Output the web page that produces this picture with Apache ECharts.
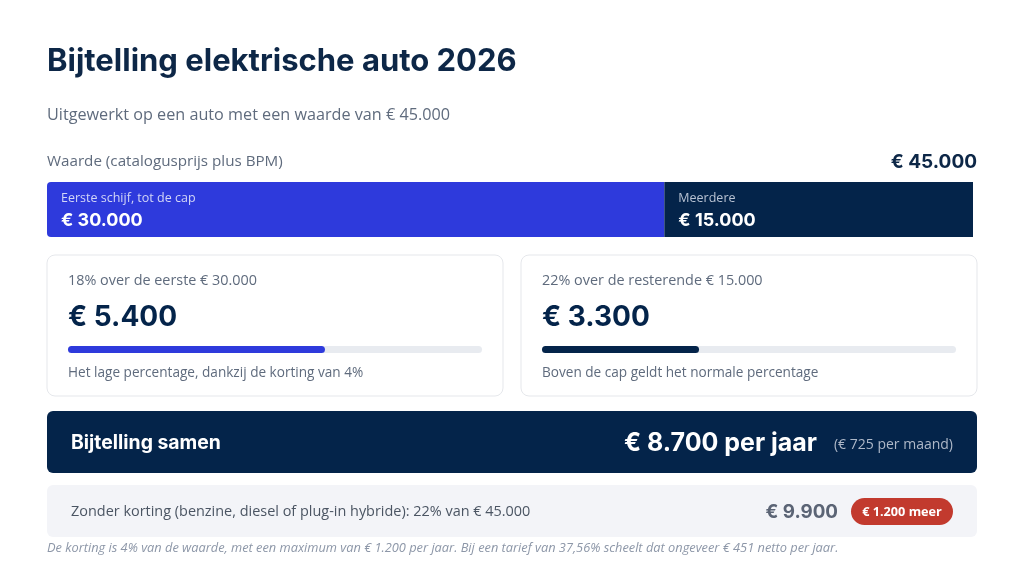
<!DOCTYPE html>
<html>
<head>
<meta charset="utf-8">
<script src="https://cdn.jsdelivr.net/npm/echarts@6/dist/echarts.min.js"></script>
<style>
  html, body { margin: 0; padding: 0; background: #fff; }
  #chart { width: 1024px; height: 563px; }
</style>
</head>
<body>
<div id="chart"></div>
<script>
// data
const carValue = 45000
const segmentNames = ["Eerste schijf, tot de cap", "Meerdere"]
const segmentValues = [30000, 15000]
const segmentRates = [18, 22]
const segmentNotes = ["Het lage percentage, dankzij de korting van 4%", "Boven de cap geldt het normale percentage"]
const normalRate = 22
const maxDiscount = 1200
const netRate = "37,56"
const netSaving = 451

const navy = "#04244a"
const blue = "#2e3adc"
const grey = "#5f6b7d"
const headFont = "Inter, 'Noto Sans', sans-serif"
const bodyFont = "'Open Sans', 'Noto Sans', sans-serif"

function eur(v) {
    return "€ " + String(Math.round(v)).replace(/\B(?=(\d{3})+(?!\d))/g, ".")
}

const taxes = segmentValues.map((v, i) => v * segmentRates[i] / 100)
const total = taxes[0] + taxes[1]
const withoutDiscount = carValue * normalRate / 100

const myChart = echarts.init(document.getElementById("chart"))

function txt(x, y, text, font, fill, align) {
    return {
        type: "text",
        z: 10,
        style: {
            x: x, y: y, text: text, font: font, fill: fill,
            align: align || "left", verticalAlign: "middle"
        }
    }
}

function box(x, y, w, h, fill, stroke, r) {
    return {
        type: "rect",
        z: 0,
        shape: { x: x, y: y, width: w, height: h, r: r },
        style: { fill: fill, stroke: stroke || null, lineWidth: stroke ? 1 : 0 }
    }
}

const cardX = [47, 521]
const graphics = [
    txt(47, 62, "Bijtelling elektrische auto 2026", "700 31px " + headFont, "#0d2747"),
    txt(47, 115, "Uitgewerkt op een auto met een waarde van " + eur(carValue), "400 16.2px " + bodyFont, grey),
    txt(47, 162, "Waarde (catalogusprijs plus BPM)", "400 15.2px " + bodyFont, grey),
    txt(977, 162, eur(carValue), "700 19px " + headFont, "#0d2747", "right"),

    box(47, 411, 930, 62, navy, null, 6),
    txt(71, 443, "Bijtelling samen", "700 19.4px " + headFont, "#fff"),
    txt(953, 445, "(" + eur(total / 12) + " per maand)", "400 14px " + bodyFont, "#aeb8c8", "right"),
    txt(817, 443, eur(total) + " per jaar", "700 25px " + headFont, "#fff", "right"),

    box(47, 485, 930, 52, "#f3f4f8", null, 6),
    txt(71, 512, "Zonder korting (benzine, diesel of plug-in hybride): " + normalRate + "% van " + eur(carValue), "400 14.45px " + bodyFont, "#4b5563"),
    txt(838, 512, eur(withoutDiscount), "700 18.8px " + headFont, "#5b6475", "right"),
    box(851, 498, 102, 27, "#c23a2e", null, 13.5),
    txt(902, 512, eur(withoutDiscount - total) + " meer", "700 12.7px " + bodyFont, "#fff", "center"),

    txt(47, 548, "De korting is 4% van de waarde, met een maximum van " + eur(maxDiscount) + " per jaar. Bij een tarief van " + netRate + "% scheelt dat ongeveer " + eur(netSaving) + " netto per jaar.", "italic 400 12.8px " + bodyFont, "#8d97a8")
]

cardX.forEach(function (x, i) {
    graphics.push(box(x, 255, 456, 141, "#fff", "#e5e7eb", 8))
    graphics.push(txt(x + 21, 281, segmentRates[i] + "% over de " + (i === 0 ? "eerste " : "resterende ") + eur(segmentValues[i]), "400 14.4px " + bodyFont, grey))
    graphics.push(txt(x + 21, 318, eur(taxes[i]), "700 28px " + headFont, navy))
    graphics.push(txt(x + 21, 373, segmentNotes[i], "400 13.6px " + bodyFont, grey))
})

const option = {
    animation: false,
    grid: [
        { left: 47, top: 182, width: 926, height: 55 },
        { left: 68, top: 346, width: 414, height: 7 },
        { left: 542, top: 346, width: 414, height: 7 }
    ],
    xAxis: [
        { gridIndex: 0, type: "value", min: 0, max: carValue, show: false },
        { gridIndex: 1, type: "value", min: 0, max: total, show: false },
        { gridIndex: 2, type: "value", min: 0, max: total, show: false }
    ],
    yAxis: [
        { gridIndex: 0, type: "category", data: ["waarde"], show: false },
        { gridIndex: 1, type: "category", data: ["a"], show: false },
        { gridIndex: 2, type: "category", data: ["b"], show: false }
    ],
    series: [{
            type: "bar",
            stack: "waarde",
            xAxisIndex: 0,
            yAxisIndex: 0,
            barWidth: "100%",
            data: [segmentValues[0]],
            itemStyle: { color: blue, borderRadius: [4, 0, 0, 4] },
            label: {
                show: true,
                position: "insideLeft",
                distance: 14,
                formatter: "{a|" + segmentNames[0] + "}\n{b|" + eur(segmentValues[0]) + "}",
                rich: {
                    a: { fontFamily: bodyFont, fontSize: 12.5, color: "#d3d6f7", lineHeight: 23 },
                    b: { fontFamily: headFont, fontSize: 18, fontWeight: 700, color: "#fff", lineHeight: 23 }
                }
            }
        },
        {
            type: "bar",
            stack: "waarde",
            xAxisIndex: 0,
            yAxisIndex: 0,
            barWidth: "100%",
            data: [segmentValues[1]],
            itemStyle: { color: navy },
            label: {
                show: true,
                position: "insideLeft",
                distance: 14,
                formatter: "{a|" + segmentNames[1] + "}\n{b|" + eur(segmentValues[1]) + "}",
                rich: {
                    a: { fontFamily: bodyFont, fontSize: 12.5, color: "#b8c2d2", lineHeight: 23 },
                    b: { fontFamily: headFont, fontSize: 18, fontWeight: 700, color: "#fff", lineHeight: 23 }
                }
            }
        },
        {
            type: "bar",
            xAxisIndex: 1,
            yAxisIndex: 1,
            barWidth: "100%",
            data: [taxes[0]],
            showBackground: true,
            backgroundStyle: { color: "#e8ebf0", borderRadius: 4 },
            itemStyle: { color: blue, borderRadius: 4 }
        },
        {
            type: "bar",
            xAxisIndex: 2,
            yAxisIndex: 2,
            barWidth: "100%",
            data: [taxes[1]],
            showBackground: true,
            backgroundStyle: { color: "#e8ebf0", borderRadius: 4 },
            itemStyle: { color: navy, borderRadius: 4 }
        }
    ],
    graphic: graphics
}
myChart.setOption(option)
</script>
</body>
</html>
